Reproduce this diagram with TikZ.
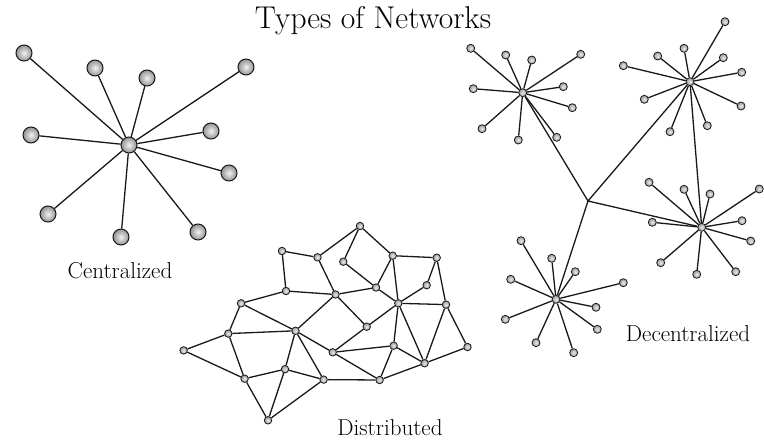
\documentclass[tikz,border=0pt]{standalone}
\usepackage{xcolor}
\usepackage{tikz}
\usetikzlibrary{backgrounds}

\begin{document}
\begin{tikzpicture}[
  x=1pt, y=-1pt,
  bigball/.style={circle, draw=black!90, line width=1pt, inner sep=0pt, minimum size=16pt,
                  inner color=gray!10, outer color=gray!85},
  ball/.style={circle, draw=black!90, line width=0.8pt, inner sep=0pt, minimum size=7.5pt,
               inner color=gray!15, outer color=gray!80},
  link/.style={draw=black!90, line width=1.3pt},
  caption/.style={font=\fontsize{23}{27}\selectfont, anchor=base},
  heading/.style={font=\fontsize{31.5}{36}\selectfont, anchor=base}
]
\useasboundingbox (0,0) rectangle (764,440);

% Title
\node[heading] (title) at (373,28) {Types of Networks};

% Centralized
\node[bigball] (chub) at (129,145) {};
\node[bigball] (c1) at (24,53) {};   \node[bigball] (c2) at (95,68) {};
\node[bigball] (c3) at (147,78) {};  \node[bigball] (c4) at (246,67) {};
\node[bigball] (c5) at (31,135) {};  \node[bigball] (c6) at (211,131) {};
\node[bigball] (c7) at (229,173) {}; \node[bigball] (c8) at (48,214) {};
\node[bigball] (c9) at (121,237) {}; \node[bigball] (c10) at (198,232) {};
\node[caption] (clabel) at (120,278) {Centralized};

% Distributed
\node[ball] (da) at (360,226) {};     \node[ball] (db) at (282,251) {};
\node[ball] (dc) at (317.5,257.3) {}; \node[ball] (dd) at (343.3,261.7) {};
\node[ball] (de) at (392.7,255.7) {}; \node[ball] (df) at (436.7,257.7) {};
\node[ball] (dg) at (286,291) {};     \node[ball] (dh) at (335.5,294.5) {};
\node[ball] (di) at (376,287.5) {};   \node[ball] (dj) at (426.7,285.2) {};
\node[ball] (dk) at (241,303.3) {};   \node[ball] (dl) at (398.3,303.3) {};
\node[ball] (dm) at (446,304.6) {};   \node[ball] (dn) at (295.5,330.8) {};
\node[ball] (do) at (366.7,326.7) {}; \node[ball] (dp) at (228.3,333.6) {};
\node[ball] (dq) at (183.6,350.4) {}; \node[ball] (dr) at (332.7,352.3) {};
\node[ball] (ds) at (393.6,345.7) {}; \node[ball] (dt) at (285,369.2) {};
\node[ball] (du) at (424.6,363.3) {}; \node[ball] (dv) at (244.6,378.7) {};
\node[ball] (dw) at (323.6,379.6) {}; \node[ball] (dx) at (379.6,380) {};
\node[ball] (dy) at (268,420.3) {};   \node[ball] (dz) at (467.5,347) {};
\node[caption] (dlabel) at (390,435) {Distributed};

% Decentralized
\coordinate (junc) at (588,201);
\node[ball, minimum size=8pt] (nw) at (522.7,92.7) {};
\node[ball, minimum size=8pt] (ne) at (690,81.7) {};
\node[ball, minimum size=8pt] (se) at (701.7,227.3) {};
\node[ball, minimum size=8pt] (sw) at (556,299.3) {};

\node[ball, minimum size=8pt] (nw1) at (470.7,48.3) {};  \node[ball, minimum size=8pt] (nw2) at (505.7,55) {};
\node[ball, minimum size=8pt] (nw3) at (531.7,60) {};    \node[ball, minimum size=8pt] (nw4) at (580.7,54.3) {};
\node[ball, minimum size=8pt] (nw5) at (473.3,88.7) {};  \node[ball, minimum size=8pt] (nw6) at (563.3,86.7) {};
\node[ball, minimum size=8pt] (nw7) at (572.3,107.7) {}; \node[ball, minimum size=8pt] (nw8) at (482,128.7) {};
\node[ball, minimum size=8pt] (nw9) at (518.3,140) {};   \node[ball, minimum size=8pt] (nw10) at (556.7,137.3) {};

\node[ball, minimum size=8pt] (ne1) at (725,21.7) {};    \node[ball, minimum size=8pt] (ne2) at (684,48.3) {};
\node[ball, minimum size=8pt] (ne3) at (657.7,56) {};    \node[ball, minimum size=8pt] (ne4) at (623.3,65.7) {};
\node[ball, minimum size=8pt] (ne5) at (723.3,57.7) {};  \node[ball, minimum size=8pt] (ne6) at (741.7,72.3) {};
\node[ball, minimum size=8pt] (ne7) at (644.3,99.3) {};  \node[ball, minimum size=8pt] (ne8) at (741,106) {};
\node[ball, minimum size=8pt] (ne9) at (670,131.7) {};   \node[ball, minimum size=8pt] (ne10) at (707.3,125.7) {};

\node[ball, minimum size=8pt] (se1) at (649,182.3) {};   \node[ball, minimum size=8pt] (se2) at (684,189.3) {};
\node[ball, minimum size=8pt] (se3) at (710,194) {};     \node[ball, minimum size=8pt] (se4) at (759.3,189) {};
\node[ball, minimum size=8pt] (se5) at (652.3,222.3) {}; \node[ball, minimum size=8pt] (se6) at (742,220.7) {};
\node[ball, minimum size=8pt] (se7) at (750.7,241) {};   \node[ball, minimum size=8pt] (se8) at (660.7,262.7) {};
\node[ball, minimum size=8pt] (se9) at (696.7,274.3) {}; \node[ball, minimum size=8pt] (se10) at (735.7,271.7) {};

\node[ball, minimum size=8pt] (sw1) at (521,240.7) {};   \node[ball, minimum size=8pt] (sw2) at (551.7,258.3) {};
\node[ball, minimum size=8pt] (sw3) at (575.3,271.7) {}; \node[ball, minimum size=8pt] (sw4) at (510.7,279.3) {};
\node[ball, minimum size=8pt] (sw5) at (623.3,282.7) {}; \node[ball, minimum size=8pt] (sw6) at (596,307.3) {};
\node[ball, minimum size=8pt] (sw7) at (505.3,319.3) {}; \node[ball, minimum size=8pt] (sw8) at (597.3,329.3) {};
\node[ball, minimum size=8pt] (sw9) at (536,342.7) {};   \node[ball, minimum size=8pt] (sw10) at (573.7,352.7) {};
\node[caption] (xlabel) at (688,341) {Decentralized};

% Links
\begin{scope}[on background layer]
\draw[link] (chub)--(c1) (chub)--(c2) (chub)--(c3) (chub)--(c4) (chub)--(c5)
            (chub)--(c6) (chub)--(c7) (chub)--(c8) (chub)--(c9) (chub)--(c10);

\draw[link] (da)--(dc) (da)--(dd) (da)--(de) (db)--(dc) (db)--(dg) (dc)--(dh);
\draw[link] (dd)--(di) (de)--(di) (de)--(df) (de)--(dl) (df)--(dj) (df)--(dm);
\draw[link] (dj)--(dl) (di)--(dl) (dh)--(di) (dg)--(dh) (dg)--(dk) (dk)--(dp);
\draw[link] (dk)--(dn) (dh)--(dn) (dh)--(do) (do)--(dl) (dl)--(dm) (do)--(dr);
\draw[link] (dr)--(ds) (dr)--(dx) (ds)--(dx) (ds)--(du) (dx)--(du) (dw)--(dx);
\draw[link] (du)--(dz) (dl)--(ds) (dl)--(du) (dm)--(du) (dm)--(dz) (dr)--(dn);
\draw[link] (dp)--(dq) (dq)--(dv) (dp)--(dv) (dp)--(dn) (dn)--(dt) (dn)--(dw);
\draw[link] (dt)--(dv) (dt)--(dw) (dt)--(dy) (dv)--(dy) (dy)--(dw);

\draw[link] (nw)--(junc) (ne)--(junc) (se)--(junc) (sw)--(junc) (ne)--(se);
\draw[link] (nw)--(nw1) (nw)--(nw2) (nw)--(nw3) (nw)--(nw4) (nw)--(nw5)
            (nw)--(nw6) (nw)--(nw7) (nw)--(nw8) (nw)--(nw9) (nw)--(nw10);
\draw[link] (ne)--(ne1) (ne)--(ne2) (ne)--(ne3) (ne)--(ne4) (ne)--(ne5)
            (ne)--(ne6) (ne)--(ne7) (ne)--(ne8) (ne)--(ne9) (ne)--(ne10);
\draw[link] (se)--(se1) (se)--(se2) (se)--(se3) (se)--(se4) (se)--(se5)
            (se)--(se6) (se)--(se7) (se)--(se8) (se)--(se9) (se)--(se10);
\draw[link] (sw)--(sw1) (sw)--(sw2) (sw)--(sw3) (sw)--(sw4) (sw)--(sw5)
            (sw)--(sw6) (sw)--(sw7) (sw)--(sw8) (sw)--(sw9) (sw)--(sw10);
\end{scope}

\end{tikzpicture}
\end{document}
